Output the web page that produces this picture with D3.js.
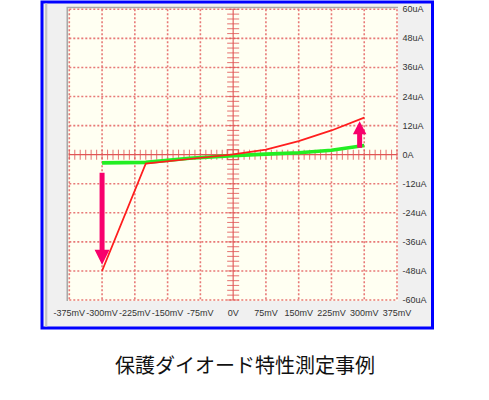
<!DOCTYPE html>
<html><head><meta charset="utf-8">
<script src="https://cdn.jsdelivr.net/npm/d3@7/dist/d3.min.js"></script>
<style>html,body{margin:0;padding:0;background:#fff;}svg{display:block;}</style>
</head><body>
<svg id="c" width="489" height="400"></svg>
<script>
// ---- data ----
const xTicks = [-375,-300,-225,-150,-75,0,75,150,225,300,375];
const xTickLabels = ["-375mV","-300mV","-225mV","-150mV","-75mV","0V","75mV","150mV","225mV","300mV","375mV"];
const yTicks = [60,48,36,24,12,0,-12,-24,-36,-48,-60];
const yTickLabels = ["60uA","48uA","36uA","24uA","12uA","0A","-12uA","-24uA","-36uA","-48uA","-60uA"];
const redV = [-300,-200,-100,0,75,150,225,300];
const redI = [-48,-3.7,-1.8,0.1,2.1,5.6,10,15.3];
const greenV = [-300,-200,-100,0,75,150,225,300];
const greenI = [-3.4,-3.2,-1.5,-0.4,0.2,0.8,1.8,3.8];
// arrows: [x(mV), from(uA), to(uA)]
const arrowDown = [-300,-7.5,-45.4];
const arrowUp = [289.5,2.8,13.8];
const title = "保護ダイオード特性測定事例";

const svg = d3.select("#c");
const x = d3.scaleLinear().domain([-375,375]).range([69.3,397]);
const y = d3.scaleLinear().domain([-60,60]).range([300,9.3]);

// frame
svg.append("rect").attr("x",42).attr("y",2).attr("width",390.5).attr("height",326)
  .attr("fill","#f0f0f0").attr("stroke","#0000ff").attr("stroke-width",3);
svg.append("line").attr("x1",46.2).attr("x2",46.2).attr("y1",3.5).attr("y2",326.5)
  .attr("stroke","#c4c4c4").attr("stroke-width",2.2);
// plot background with sunken edge
svg.append("rect").attr("x",67.5).attr("y",7.8).attr("width",x(375)-67.5+1).attr("height",y(-60)-7.8+1)
  .attr("fill","#fffff2");
svg.append("path").attr("d",`M67.3,${y(-60)+1}V7.5H${x(375)+1}`).attr("fill","none")
  .attr("stroke","#a8a8a8").attr("stroke-width",1.6);

// dotted grid
const grid = svg.append("g").attr("stroke","#e46262").attr("stroke-width",1.6)
  .attr("stroke-dasharray","2,2").attr("opacity",0.85);
xTicks.filter(v=>v!==0).forEach(v=>{
  grid.append("line").attr("x1",x(v)).attr("x2",x(v)).attr("y1",y(60)).attr("y2",y(-60));
});
yTicks.filter(v=>v!==0).forEach(v=>{
  grid.append("line").attr("x1",x(-375)).attr("x2",x(375)).attr("y1",y(v)).attr("y2",y(v));
});

// center axes with minor ticks
const ax = svg.append("g").attr("stroke","#e05555").attr("stroke-width",1.1);
ax.append("line").attr("x1",x(-375)).attr("x2",x(375)).attr("y1",y(0)).attr("y2",y(0));
ax.append("line").attr("x1",x(0)).attr("x2",x(0)).attr("y1",y(60)).attr("y2",y(-60));
d3.range(-375,375.01,12.5).forEach(v=>{
  ax.append("line").attr("x1",x(v)).attr("x2",x(v)).attr("y1",y(0)-5).attr("y2",y(0)+5).attr("opacity",0.75);
});
d3.range(-60,60.01,2).forEach(v=>{
  ax.append("line").attr("x1",x(0)-6).attr("x2",x(0)+6).attr("y1",y(v)).attr("y2",y(v)).attr("opacity",0.75);
});
ax.append("rect").attr("x",x(0)-6).attr("y",y(0)-5).attr("width",11).attr("height",10)
  .attr("fill","none").attr("opacity",0.8);

// tick labels
const lab = svg.append("g").attr("font-family","Liberation Sans, Arial, sans-serif")
  .attr("font-size",9).attr("fill","#333");
xTicks.forEach((v,i)=>{
  lab.append("text").attr("x",x(v)).attr("y",312.8).attr("text-anchor","middle")
    .attr("dominant-baseline","central").text(xTickLabels[i]);
});
yTicks.forEach((v,i)=>{
  lab.append("text").attr("x",402.5).attr("y",Math.max(y(v),7.5)).attr("dominant-baseline","central")
    .text(yTickLabels[i]);
});

// series
const line = d3.line().x(d=>x(d[0])).y(d=>y(d[1]));
svg.append("path").datum(greenV.map((v,i)=>[v,greenI[i]])).attr("d",line)
  .attr("fill","none").attr("stroke","#22ee22").attr("stroke-width",3.6);
svg.append("path").datum(redV.map((v,i)=>[v,redI[i]])).attr("d",line)
  .attr("fill","none").attr("stroke","#ff1e1e").attr("stroke-width",1.7);

// arrows
function arrow(a, headW, headL){
  const cx = x(a[0]), y0 = y(a[1]), y1 = y(a[2]);
  const dir = y1 > y0 ? 1 : -1;
  const hb = y1 - dir*headL, sw = 2.5;
  const pts = [[cx-sw,y0],[cx+sw,y0],[cx+sw,hb],[cx+headW/2,hb],[cx,y1],[cx-headW/2,hb],[cx-sw,hb]];
  svg.append("polygon").attr("points",pts.map(p=>p.join(",")).join(" ")).attr("fill","#f8006c");
}
arrow(arrowDown,15,15);
arrow(arrowUp,13.5,13);

// title
svg.append("text").attr("x",245).attr("y",364).attr("text-anchor","middle")
  .attr("dominant-baseline","central").attr("font-family","Noto Sans CJK JP, sans-serif")
  .attr("font-size",20).attr("fill","#111").text(title);
</script>
</body></html>
